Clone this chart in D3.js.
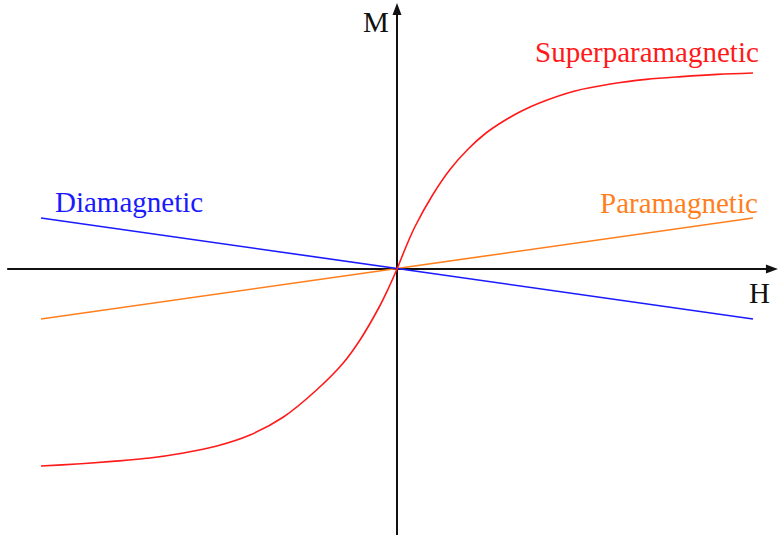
<!DOCTYPE html>
<html>
<head>
<meta charset="utf-8">
<script src="https://cdn.jsdelivr.net/npm/d3@7"></script>
<style>
  html, body { margin: 0; padding: 0; background: #fff; }
  svg { display: block; }
  text { font-family: "Liberation Serif", "DejaVu Serif", serif; }
</style>
</head>
<body>
<svg id="chart" width="779" height="535"></svg>
<script>
// ---- data (H, M in relative units) ----
const superH = [-1.0, -0.9, -0.8, -0.694, -0.6, -0.506, -0.413, -0.319, -0.226, -0.151, -0.104, -0.05, -0.025, 0,
                0.025, 0.05, 0.1, 0.15, 0.2, 0.25, 0.3, 0.35, 0.4, 0.5, 0.6, 0.7, 0.8, 0.9, 1.0];
const superM = [-0.985, -0.975, -0.962, -0.945, -0.92, -0.885, -0.83, -0.74, -0.605, -0.47, -0.355, -0.19, -0.10, 0,
                0.11, 0.21, 0.37, 0.50, 0.60, 0.68, 0.74, 0.79, 0.83, 0.89, 0.925, 0.948, 0.962, 0.973, 0.98];
const diaH = [-1.0, 1.0];
const diaM = [0.255, -0.25];
const paraH = [-1.0, 1.0];
const paraM = [-0.25, 0.255];
const axisH = [-1.095, 1.07];
const axisM = [-1.33, 1.33];
const seriesNames = ["Superparamagnetic", "Paramagnetic", "Diamagnetic"];
const axisLabels = ["H", "M"];

const svg = d3.select("#chart");
const x = d3.scaleLinear().domain([-1, 1]).range([41, 753]);
const y = d3.scaleLinear().domain([-1, 1]).range([469, 69]);

const line = d3.line().x(d => x(d[0])).y(d => y(d[1]));
const smooth = d3.line().x(d => x(d[0])).y(d => y(d[1])).curve(d3.curveCatmullRom.alpha(0.5));

// axes
const axisColor = "#111";
const headLen = 12, headHalf = 4.5;
svg.append("line")
  .attr("x1", x(axisH[0])).attr("x2", x(axisH[1]) - headLen + 1)
  .attr("y1", y(0)).attr("y2", y(0))
  .attr("stroke", axisColor).attr("stroke-width", 2);
svg.append("path")
  .attr("d", `M${x(axisH[1])},${y(0)} L${x(axisH[1]) - headLen},${y(0) - headHalf} L${x(axisH[1]) - headLen},${y(0) + headHalf} Z`)
  .attr("fill", axisColor);
svg.append("line")
  .attr("x1", x(0)).attr("x2", x(0))
  .attr("y1", y(axisM[0])).attr("y2", y(axisM[1]) + headLen - 1)
  .attr("stroke", axisColor).attr("stroke-width", 2);
svg.append("path")
  .attr("d", `M${x(0)},${y(axisM[1])} L${x(0) - headHalf},${y(axisM[1]) + headLen} L${x(0) + headHalf},${y(axisM[1]) + headLen} Z`)
  .attr("fill", axisColor);

// curves
const colors = { sup: "#ff1a1a", para: "#ff7f1e", dia: "#1a1aff" };
svg.append("path").datum(d3.zip(paraH, paraM))
  .attr("d", line).attr("fill", "none").attr("stroke", colors.para).attr("stroke-width", 1.6);
svg.append("path").datum(d3.zip(diaH, diaM))
  .attr("d", line).attr("fill", "none").attr("stroke", colors.dia).attr("stroke-width", 1.6);
svg.append("path").datum(d3.zip(superH, superM))
  .attr("d", smooth).attr("fill", "none").attr("stroke", colors.sup).attr("stroke-width", 1.6);

// labels
const fs = 29;
svg.append("text").attr("x", 535).attr("y", 62).attr("fill", colors.sup)
  .attr("font-size", fs).text(seriesNames[0]);
svg.append("text").attr("x", 600).attr("y", 213).attr("fill", colors.para)
  .attr("font-size", fs).text(seriesNames[1]);
svg.append("text").attr("x", 55).attr("y", 212).attr("fill", colors.dia)
  .attr("font-size", fs).text(seriesNames[2]);
svg.append("text").attr("x", 749).attr("y", 303).attr("fill", "#111")
  .attr("font-size", fs).text(axisLabels[0]);
svg.append("text").attr("x", 363).attr("y", 32).attr("fill", "#111")
  .attr("font-size", fs).text(axisLabels[1]);
</script>
</body>
</html>
